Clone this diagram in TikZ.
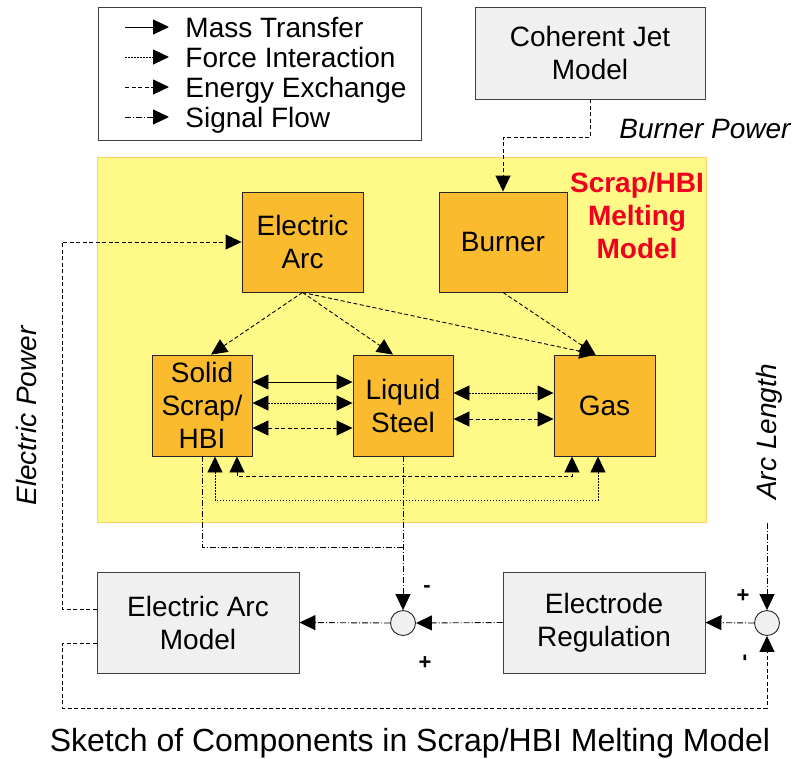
\documentclass[tikz,border=0pt]{standalone}
\usepackage{fontspec}
\setmainfont{Liberation Sans}
\usetikzlibrary{arrows.meta,calc}
\definecolor{yel}{RGB}{255,250,135}
\definecolor{yelb}{RGB}{255,214,102}
\definecolor{org}{RGB}{251,187,46}
\definecolor{gry}{RGB}{240,240,240}
\definecolor{redt}{RGB}{240,0,30}
\begin{document}
\begin{tikzpicture}[x=1pt,y=-1pt,line width=0.9pt,
  >={Triangle[length=16pt,width=15pt]},
  orangebox/.style={draw=black!85,fill=org,line width=0.9pt,align=center,inner sep=0pt,font=\fontsize{28}{33}\selectfont},
  graybox/.style={draw=black!75,fill=gry,line width=0.9pt,align=center,inner sep=0pt,font=\fontsize{28}{33}\selectfont},
  sumnode/.style={circle,draw=black!85,fill=gry,line width=0.9pt,minimum size=25pt,inner sep=0pt},
  lbl/.style={font=\fontsize{28}{32}\selectfont},
  signlbl/.style={font=\bfseries\fontsize{22}{24}\selectfont},
  massline/.style={solid},
  forceline/.style={dash pattern=on 1.5pt off 1.5pt},
  energyline/.style={dash pattern=on 4pt off 2.5pt},
  signalline/.style={dash pattern=on 6pt off 2pt on 1pt off 2pt}]
\useasboundingbox (0,0) rectangle (794,758);
% legend
\node[draw=black!75,line width=0.9pt,minimum width=323pt,minimum height=133pt,inner sep=0pt] (legend) at (259.5,73.5) {};
\node[lbl,anchor=base west,inner sep=0pt] (t1) at (185,37) {Mass Transfer};
\node[lbl,anchor=base west,inner sep=0pt] (t2) at (185,67) {Force Interaction};
\node[lbl,anchor=base west,inner sep=0pt] (t3) at (185,97) {Energy Exchange};
\node[lbl,anchor=base west,inner sep=0pt] (t4) at (185,127) {Signal Flow};
\coordinate (a1) at (125,27); \coordinate (b1) at (169,27);
\coordinate (a2) at (125,57); \coordinate (b2) at (169,57);
\coordinate (a3) at (125,87); \coordinate (b3) at (169,87);
\coordinate (a4) at (125,117); \coordinate (b4) at (169,117);
\draw[massline,->] (a1) -- (b1);
\draw[forceline,->] (a2) -- (b2);
\draw[energyline,->] (a3) -- (b3);
\draw[signalline,->] (a4) -- (b4);
% yellow region
\node[draw=yelb,fill=yel,line width=1pt,minimum width=609pt,minimum height=365pt,inner sep=0pt] (region) at (401.5,339.5) {};
\node[font=\bfseries\fontsize{28}{33}\selectfont,text=redt,align=center,inner sep=0pt] (rtitle) at (637,215) {Scrap/HBI\\Melting\\Model};
% boxes
\node[graybox,minimum width=230pt,minimum height=92pt] (cj) at (590,53) {Coherent Jet\\Model};
\node[orangebox,minimum width=121pt,minimum height=100pt] (ea) at (302.5,242) {Electric\\Arc};
\node[orangebox,minimum width=128pt,minimum height=100pt] (burner) at (503,242) {Burner};
\node[orangebox,minimum width=100pt,minimum height=101pt] (solid) at (202,405.5) {Solid\\Scrap/\\HBI};
\node[orangebox,minimum width=100pt,minimum height=101pt] (liquid) at (403,405.5) {Liquid\\Steel};
\node[orangebox,minimum width=101pt,minimum height=101pt] (gas) at (604.5,405.5) {Gas};
\node[graybox,minimum width=202pt,minimum height=101pt] (eam) at (198,622.5) {Electric Arc\\Model};
\node[graybox,minimum width=202pt,minimum height=101pt] (er) at (604,622.5) {Electrode\\Regulation};
\node[sumnode] (s1) at (403,623) {};
\node[sumnode] (s2) at (767,623) {};
% labels
\node[lbl,font=\itshape\fontsize{28}{32}\selectfont,anchor=base,inner sep=0pt] (bp) at (705,138) {Burner Power};
\node[lbl,font=\itshape\fontsize{28}{32}\selectfont,rotate=90,anchor=base,inner sep=0pt] (epw) at (36,416) {Electric Power};
\node[lbl,font=\itshape\fontsize{28}{32}\selectfont,rotate=90,anchor=base,inner sep=0pt] (alen) at (776,432) {Arc Length};
\node[signlbl,inner sep=0pt] (m1) at (427,589) {-};
\node[signlbl,inner sep=0pt] (p1) at (425,663) {+};
\node[signlbl,inner sep=0pt] (p2) at (743,596) {+};
\node[signlbl,rotate=90,inner sep=0pt] (m2) at (747,658) {-};
\node[font=\fontsize{32}{36}\selectfont,anchor=base,inner sep=0pt] (title) at (410,751) {Sketch of Components in Scrap/HBI Melting Model};
% energy arrows inside
\draw[energyline,->] (ea.south) -- ([xshift=9pt]solid.north);
\draw[energyline,->] (ea.south) -- ([xshift=-10pt]liquid.north);
\draw[energyline,->] (ea.south) -- ([xshift=-9pt]gas.north);
\draw[energyline,->] (burner.south) -- ([xshift=-9pt]gas.north);
\draw[energyline,->] (cj.south) -- ++(0,38) -| (burner.north);
% solid <-> liquid
\draw[massline,<->] ([yshift=23.5pt]solid.east) -- ([yshift=23.5pt]liquid.west);
\draw[forceline,<->] ([yshift=2.5pt]solid.east) -- ([yshift=2.5pt]liquid.west);
\draw[energyline,<->] ([yshift=-22.5pt]solid.east) -- ([yshift=-22.5pt]liquid.west);
% liquid <-> gas
\draw[forceline,<->] ([yshift=12.5pt]liquid.east) -- ([yshift=12.5pt]gas.west);
\draw[energyline,<->] ([yshift=-13.5pt]liquid.east) -- ([yshift=-13.5pt]gas.west);
% solid <-> gas below
\draw[energyline,<->] ([xshift=35pt]solid.south) -- ++(0,20) -| ([xshift=-32.5pt]gas.south);
\draw[forceline,<->] ([xshift=13pt]solid.south) -- ++(0,44) -| ([xshift=-6.5pt]gas.south);
% signal
\coordinate (j1) at (403,547);
\draw[signalline] (solid.south) |- (j1);
\draw[signalline,->] (liquid.south) -- (s1.north);
\draw[signalline,->] (er.west) -- (s1.east);
\draw[signalline,->] (s1.west) -- (eam.east);
\draw[signalline,->] (s2.west) -- (er.east);
\coordinate (al) at (767,523);
\draw[signalline,->] (al) -- (s2.north);
% energy feedback
\coordinate (ep) at (62,242);
\draw[energyline,->] ([yshift=13.5pt]eam.west) -| (ep) -- (ea.west);
\coordinate (fb) at (767,708);
\draw[energyline,->] ([yshift=-20.5pt]eam.west) -- ++(-34,0) |- (fb) -- (s2.south);
\end{tikzpicture}
\end{document}
